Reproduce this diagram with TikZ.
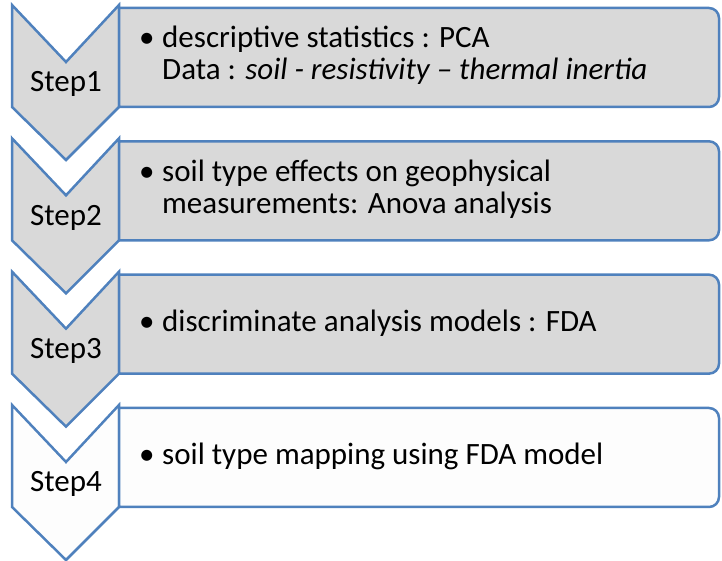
\documentclass[tikz,border=0pt]{standalone}
\usepackage{fontspec}
\setmainfont{Carlito}
\usetikzlibrary{positioning}
\definecolor{stepblue}{HTML}{4F81BD}
\definecolor{stepgrey}{HTML}{D9D9D9}
\definecolor{steplight}{HTML}{FDFDFD}
\tikzset{
  outline/.style={draw=stepblue, line width=2.5pt, line join=miter},
  steplabel/.style={font=\fontsize{31}{32}\selectfont, inner sep=0pt, anchor=base},
  itemtext/.style={font=\fontsize{31}{32}\selectfont, inner sep=0pt, anchor=base west},
}
\begin{document}
\begin{tikzpicture}[x=1pt,y=1pt]
  \useasboundingbox (0,0) rectangle (722,561);

  % Drawing the four chevrons with their boxes, top step first
  \foreach \i/\fc in {0/stepgrey,1/stepgrey,2/stepgrey,3/steplight}{
    \pgfmathsetmacro{\t}{556-133.33*\i}
    % chevron
    \draw [outline, fill=\fc] (12,\t) -- (66,\t-57) -- (119,\t) -- (119,\t-102)
      -- (66,\t-155) -- (12,\t-102) -- cycle;
    % box, rounded on the right side only
    \draw [outline, fill=\fc] (119,\t-3) -- (709,\t-3)
      arc [start angle=90, end angle=0, radius=10] -- (719,\t-92)
      arc [start angle=0, end angle=-90, radius=10] -- (119,\t-102) -- cycle;
  }

  % Step labels
  \node [steplabel] (step1) at (66,469) {Step1};
  \node [steplabel] (step2) at (66,335.7) {Step2};
  \node [steplabel] (step3) at (66,202.3) {Step3};
  \node [steplabel] (step4) at (66,69) {Step4};

  % Step 1 text
  \node [itemtext] (dot1) at (139,513) {•};
  \node [itemtext] (pca) at (162,513) {descriptive statistics : PCA};
  \node [itemtext] (data) at ([yshift=-32pt]pca.base west)
    {Data : \textit{soil - resistivity – thermal inertia}};

  % Step 2 text
  \node [itemtext] (dot2) at (139,379) {•};
  \node [itemtext] (soileff) at (162,379) {soil type effects on geophysical};
  \node [itemtext] (anova) at ([yshift=-32pt]soileff.base west)
    {measurements: Anova analysis};

  % Step 3 text
  \node [itemtext] (dot3) at (139,229) {•};
  \node [itemtext] (fda) at (162,229) {discriminate analysis models : FDA};

  % Step 4 text
  \node [itemtext] (dot4) at (139,96) {•};
  \node [itemtext] (mapping) at (162,96) {soil type mapping using FDA model};
\end{tikzpicture}
\end{document}
